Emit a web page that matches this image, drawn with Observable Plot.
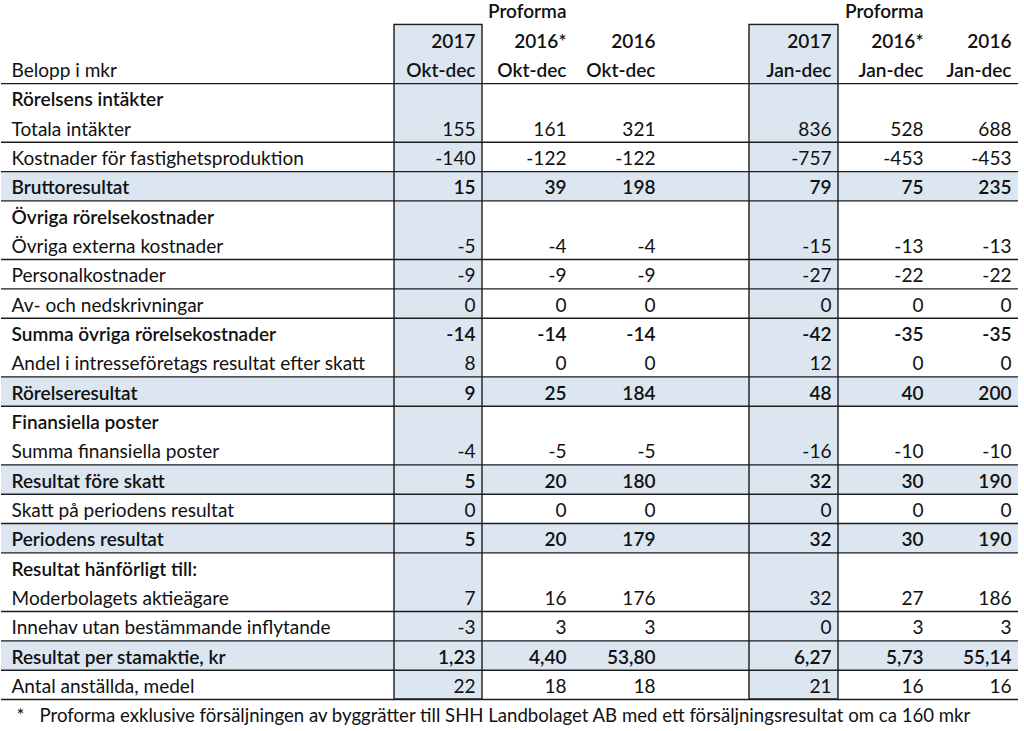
<!DOCTYPE html>
<html>
<head>
<meta charset="utf-8">
<script src="https://cdn.jsdelivr.net/npm/d3@7"></script>
<script src="https://cdn.jsdelivr.net/npm/@observablehq/plot@0.6"></script>
<style>
  html, body { margin: 0; padding: 0; background: #fff; }
  #chart svg { display: block; }
</style>
</head>
<body>
<div id="chart"></div>
<script>
// ---------------- data ----------------
const stubHeader = "Belopp i mkr";
const rowLabels = [
  "Rörelsens intäkter",
  "Totala intäkter",
  "Kostnader för fastighetsproduktion",
  "Bruttoresultat",
  "Övriga rörelsekostnader",
  "Övriga externa kostnader",
  "Personalkostnader",
  "Av- och nedskrivningar",
  "Summa övriga rörelsekostnader",
  "Andel i intresseföretags resultat efter skatt",
  "Rörelseresultat",
  "Finansiella poster",
  "Summa finansiella poster",
  "Resultat före skatt",
  "Skatt på periodens resultat",
  "Periodens resultat",
  "Resultat hänförligt till:",
  "Moderbolagets aktieägare",
  "Innehav utan bestämmande inflytande",
  "Resultat per stamaktie, kr",
  "Antal anställda, medel"
];
// section = bold heading, item = plain line, subtotal = bold line, total = bold shaded line
const rowKinds = ["section","item","item","total","section","item","item","item","subtotal","item","total",
                  "section","item","total","item","total","section","item","item","total","item"];
const rowDecimals = [0,0,0,0,0,0,0,0,0,0,0,0,0,0,0,0,0,0,0,2,0];

const columnGroupLabels = ["", "Proforma", "", "", "Proforma", ""];
const columnYears   = ["2017", "2016*", "2016", "2017", "2016*", "2016"];
const columnPeriods = ["Okt-dec", "Okt-dec", "Okt-dec", "Jan-dec", "Jan-dec", "Jan-dec"];

const q2017  = [null, 155, -140,  15, null,  -5,  -9, 0, -14,  8,   9, null,  -4,   5, 0,   5, null,   7, -3,  1.23, 22];
const q2016p = [null, 161, -122,  39, null,  -4,  -9, 0, -14,  0,  25, null,  -5,  20, 0,  20, null,  16,  3,  4.40, 18];
const q2016  = [null, 321, -122, 198, null,  -4,  -9, 0, -14,  0, 184, null,  -5, 180, 0, 179, null, 176,  3, 53.80, 18];
const y2017  = [null, 836, -757,  79, null, -15, -27, 0, -42, 12,  48, null, -16,  32, 0,  32, null,  32,  0,  6.27, 21];
const y2016p = [null, 528, -453,  75, null, -13, -22, 0, -35,  0,  40, null, -10,  30, 0,  30, null,  27,  3,  5.73, 16];
const y2016  = [null, 688, -453, 235, null, -13, -22, 0, -35,  0, 200, null, -10, 190, 0, 190, null, 186,  3, 55.14, 16];
const columnSeries = [q2017, q2016p, q2016, y2017, y2016p, y2016];
const highlightedColumns = [0, 3];

const footnoteMark = "*";
const footnote = "Proforma exklusive försäljningen av byggrätter till SHH Landbolaget AB med ett försäljningsresultat om ca 160 mkr";

// ---------------- layout / style ----------------
const FONT = "Lato, 'Open Sans', sans-serif";
const BLUE = "#dce6f1";
const LINE = "#1c1c1c";
const INK = "#111111";
const W = 1024, H = 731;
const colEdges = [[394, 482], [482, 573], [573, 662], [749, 838], [838, 930], [930, 1018]];
const tableLeft = 1, tableRight = 1018, stubX = 11, cellPad = 7;
const headerRows = 3, bodyRows = rowLabels.length, totalRowUnits = headerRows + bodyRows + 1;
const rowPx = 29.33, topPx = -4.9;
const DY = 2;
const BOLD = 600;

// font sizes fitted so the longest texts have the reference's widths
const ctx = document.createElement("canvas").getContext("2d");
ctx.font = "100px Lato";
const fs = 100 * 354 / ctx.measureText(rowLabels[9]).width;
const fsNote = 100 * 933 / ctx.measureText(footnote).width;

const sv = d3.formatLocale({decimal: ",", thousands: "\u00a0", grouping: [3], currency: ["", " kr"], minus: "-"});
const fmt = (v, dec) => dec ? sv.format(`.${dec}f`)(v) : sv.format("d")(v);

// ---------------- derived tables ----------------
const bodyRowsData = rowLabels.map((label, i) => ({label, kind: rowKinds[i], r: headerRows + i}));
const cells = [];
rowLabels.forEach((_, i) => columnSeries.forEach((s, c) => {
  if (s[i] != null) cells.push({r: headerRows + i, c, text: fmt(s[i], rowDecimals[i]), kind: rowKinds[i]});
}));
const headerCells = [];
columnYears.forEach((_, c) => {
  if (columnGroupLabels[c]) headerCells.push({r: 0, c, text: columnGroupLabels[c]});
  headerCells.push({r: 1, c, text: columnYears[c]});
  headerCells.push({r: 2, c, text: columnPeriods[c]});
});
const totalRows = bodyRowsData.filter(d => d.kind === "total");
const ruleRows = [headerRows].concat(bodyRowsData.filter(d => d.kind === "item" || d.kind === "total").map(d => d.r + 1));
const isBold = k => k !== "item";

const chart = Plot.plot({
  width: W, height: H, margin: 0,
  x: {domain: [0, W], range: [0, W], axis: null},
  y: {domain: [0, totalRowUnits], range: [topPx, topPx + totalRowUnits * rowPx], axis: null},
  style: {fontFamily: FONT, fontSize: fs + "px", background: "#fff", color: INK},
  marks: [
    Plot.rect(highlightedColumns, {x1: c => colEdges[c][0], x2: c => colEdges[c][1], y1: 1, y2: headerRows + bodyRows, fill: BLUE}),
    Plot.rect(totalRows, {x1: tableLeft, x2: tableRight, y1: d => d.r, y2: d => d.r + 1, fill: BLUE}),
    Plot.ruleY(ruleRows, {y: d => d, x1: tableLeft, x2: tableRight, stroke: LINE, strokeWidth: 1.4}),
    Plot.rect(highlightedColumns, {x1: c => colEdges[c][0], x2: c => colEdges[c][1], y1: 1, y2: headerRows + bodyRows, fill: "none", stroke: LINE, strokeWidth: 1.4}),
    // header
    Plot.text([stubHeader], {x: stubX, y: 2.5, text: d => d, textAnchor: "start", fill: INK, dy: DY}),
    Plot.text(headerCells, {x: d => colEdges[d.c][1] - cellPad, y: d => d.r + 0.5, text: "text", textAnchor: "end", fontWeight: BOLD, fill: INK, dy: DY}),
    // body stub
    Plot.text(bodyRowsData.filter(d => !isBold(d.kind)), {x: stubX, y: d => d.r + 0.5, text: "label", textAnchor: "start", fill: INK, dy: DY}),
    Plot.text(bodyRowsData.filter(d => isBold(d.kind)), {x: stubX, y: d => d.r + 0.5, text: "label", textAnchor: "start", fontWeight: BOLD, fill: INK, dy: DY}),
    // values
    Plot.text(cells.filter(d => !isBold(d.kind)), {x: d => colEdges[d.c][1] - cellPad, y: d => d.r + 0.5, text: "text", textAnchor: "end", fill: INK, dy: DY}),
    Plot.text(cells.filter(d => isBold(d.kind)), {x: d => colEdges[d.c][1] - cellPad, y: d => d.r + 0.5, text: "text", textAnchor: "end", fontWeight: BOLD, fill: INK, dy: DY}),
    // footnote
    Plot.text([footnoteMark], {x: 16, y: headerRows + bodyRows + 0.5, text: d => d, textAnchor: "start", fill: INK, dy: DY, fontSize: fsNote}),
    Plot.text([footnote], {x: 39, y: headerRows + bodyRows + 0.5, text: d => d, textAnchor: "start", fill: INK, dy: DY, fontSize: fsNote})
  ]
});
document.getElementById("chart").appendChild(chart);
</script>
</body>
</html>
